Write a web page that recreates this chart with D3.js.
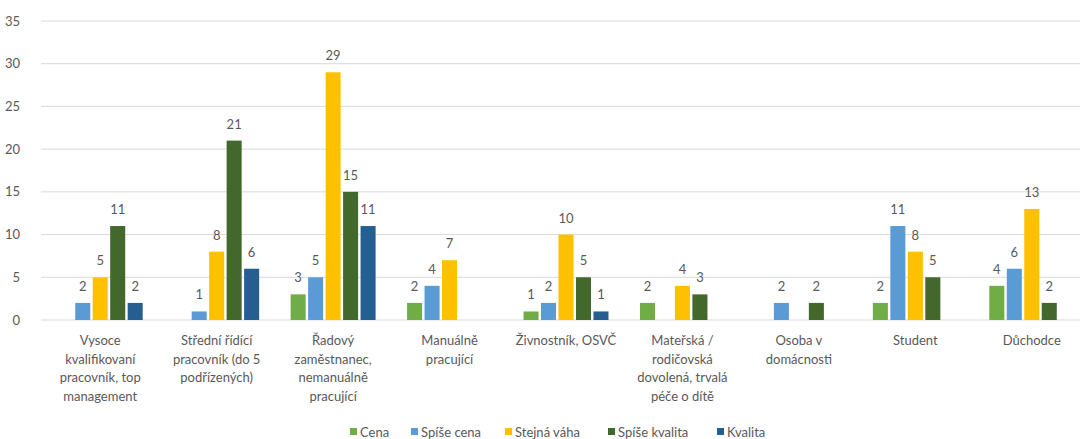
<!DOCTYPE html>
<html>
<head>
<meta charset="utf-8">
<script src="https://cdn.jsdelivr.net/npm/d3@7"></script>
<style>
  body { margin: 0; background: #fff; }
  svg { display: block; font-family: Lato, "Open Sans", sans-serif; }
</style>
</head>
<body>
<svg id="chart" width="1080" height="439"></svg>
<script>
// categories, already broken into lines as in the picture
var categories = [
    ["Vysoce", "kvalifikovaní", "pracovník, top", "management"],
    ["Střední řídící", "pracovník (do 5", "podřízených)"],
    ["Řadový", "zaměstnanec,", "nemanuálně", "pracující"],
    ["Manuálně", "pracující"],
    ["Živnostník, OSVČ"],
    ["Mateřská /", "rodičovská", "dovolená, trvalá", "péče o dítě"],
    ["Osoba v", "domácnosti"],
    ["Student"],
    ["Důchodce"]
];

var seriesNames = ["Cena", "Spíše cena", "Stejná váha", "Spíše kvalita", "Kvalita"];
var seriesColors = ["#70ad47", "#5b9bd5", "#ffc000", "#43682b", "#255e91"];

// null = no bar in the picture
var cena         = [null, null, 3, 2, 1, 2, null, 2, 4];
var spiseCena    = [2, 1, 5, 4, 2, null, 2, 11, 6];
var stejnaVaha   = [5, 8, 29, 7, 10, 4, null, 8, 13];
var spiseKvalita = [11, 21, 15, null, 5, 3, 2, 5, 2];
var kvalita      = [2, 6, 11, null, 1, null, null, null, null];

var yTicks = [0, 5, 10, 15, 20, 25, 30, 35];

var series = [cena, spiseCena, stejnaVaha, spiseKvalita, kvalita];

var svg = d3.select("#chart");
var textColor = "#595959";

var x = d3.scaleBand().domain(d3.range(categories.length)).range([42, 1090]);
var xInner = d3.scaleBand().domain(d3.range(series.length))
    .range([0, x.bandwidth()]).paddingInner(0.14).paddingOuter(0.9);
var y = d3.scaleLinear().domain([0, 35]).range([320, 21]);

// gridlines
svg.append("g").selectAll("line")
    .data(yTicks)
    .join("line")
    .attr("x1", 41).attr("x2", 1080)
    .attr("y1", d => y(d)).attr("y2", d => y(d))
    .attr("stroke", "#d9d9d9").attr("stroke-width", 1);

// y labels
svg.append("g").selectAll("text")
    .data(yTicks)
    .join("text")
    .attr("x", 20).attr("y", d => y(d))
    .attr("dy", "0.35em")
    .attr("text-anchor", "end")
    .attr("font-size", 13)
    .attr("fill", textColor)
    .text(d => d);

// bars
var bars = [];
series.forEach((s, si) => {
    s.forEach((v, ci) => {
        if (v !== null) bars.push({ s: si, c: ci, v: v });
    });
});

svg.append("g").selectAll("rect")
    .data(bars)
    .join("rect")
    .attr("x", d => x(d.c) + xInner(d.s))
    .attr("width", xInner.bandwidth())
    .attr("y", d => y(d.v))
    .attr("height", d => y(0) - y(d.v))
    .attr("fill", d => seriesColors[d.s]);

// value labels
svg.append("g").selectAll("text")
    .data(bars)
    .join("text")
    .attr("x", d => x(d.c) + xInner(d.s) + xInner.bandwidth() / 2)
    .attr("y", d => y(d.v) - 12)
    .attr("text-anchor", "middle")
    .attr("font-size", 13)
    .attr("fill", textColor)
    .text(d => d.v);

// category labels
var catG = svg.append("g").selectAll("text")
    .data(categories)
    .join("text")
    .attr("x", (d, i) => x(i) + x.bandwidth() / 2)
    .attr("y", 345)
    .attr("text-anchor", "middle")
    .attr("font-size", 13)
    .attr("fill", textColor);
catG.selectAll("tspan")
    .data(d => d)
    .join("tspan")
    .attr("x", function () { return d3.select(this.parentNode).attr("x"); })
    .attr("dy", (d, i) => i === 0 ? 0 : 18.7)
    .text(d => d);

// legend
var legendX = [350, 411, 505, 608, 717];
var legend = svg.append("g").selectAll("g")
    .data(seriesNames)
    .join("g")
    .attr("transform", (d, i) => "translate(" + legendX[i] + ",432)");
legend.append("rect")
    .attr("x", 0).attr("y", -4)
    .attr("width", 7).attr("height", 7)
    .attr("fill", (d, i) => seriesColors[i]);
legend.append("text")
    .attr("x", 10).attr("y", 0)
    .attr("dy", "0.35em")
    .attr("font-size", 13)
    .attr("fill", textColor)
    .text(d => d);
</script>
</body>
</html>
